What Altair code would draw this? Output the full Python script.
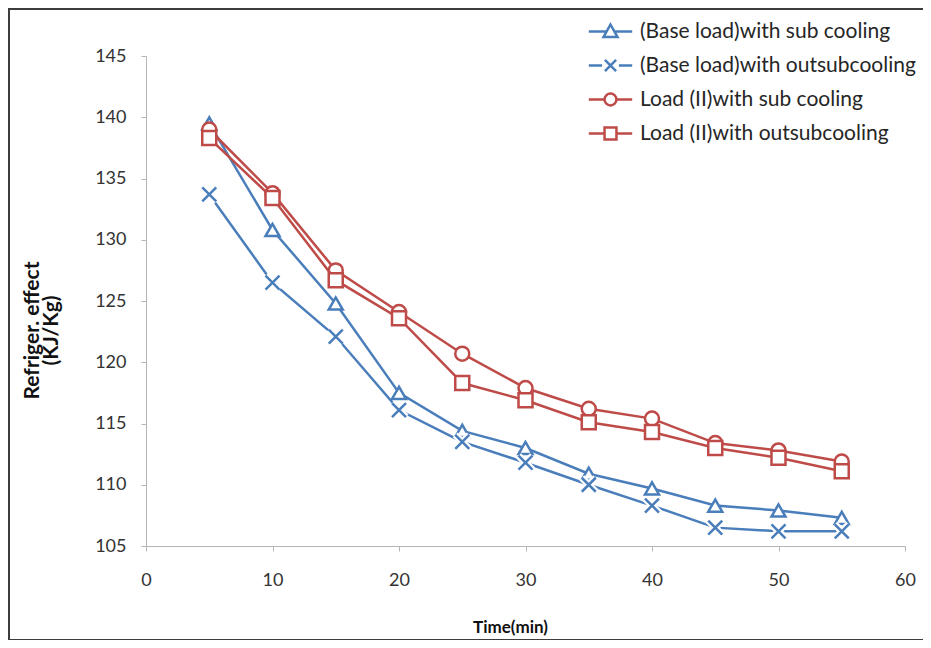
import altair as alt
import pandas as pd

# ---- data ----
times = [5, 10, 15, 20, 25, 30, 35, 40, 45, 50, 55]
series_names = [
    "(Base load)with sub cooling",
    "(Base load)with outsubcooling",
    "Load (II)with sub cooling",
    "Load (II)with outsubcooling",
]
base_sub = [139.5, 130.8, 124.8, 117.5, 114.4, 113.0, 110.9, 109.7, 108.3, 107.9, 107.3]
base_out = [133.7, 126.5, 122.1, 116.1, 113.5, 111.8, 110.0, 108.3, 106.5, 106.2, 106.2]
load_sub = [139.0, 133.8, 127.5, 124.1, 120.7, 117.9, 116.2, 115.4, 113.4, 112.8, 111.9]
load_out = [138.3, 133.4, 126.7, 123.6, 118.3, 116.9, 115.1, 114.3, 113.0, 112.2, 111.1]
x_ticks = [0, 10, 20, 30, 40, 50, 60]
y_ticks = [105, 110, 115, 120, 125, 130, 135, 140, 145]

colors = ["#4A7EBB", "#4A7EBB", "#BE4B48", "#BE4B48"]
marker_shapes = ["triangle-up", "M-1,-1L1,1M1,-1L-1,1", "circle", "square"]
halo = [False, True, False, False]
legend_shapes = [
    "M-3.1,0H-0.56M0.56,0H3.1M0,-1L1,0.8L-1,0.8Z",
    "M-3.1,0H-1.2M1.2,0H3.1M-0.8,-0.8L0.8,0.8M0.8,-0.8L-0.8,0.8",
    "M-3.1,0H-0.85A0.85,0.85 0 1,1 0.85,0A0.85,0.85 0 1,1 -0.85,0M0.85,0H3.1",
    "M-3.1,0H-0.85M0.85,0H3.1M-0.85,-0.85H0.85V0.85H-0.85Z",
]

rows = []
for name, vals in zip(series_names, [base_sub, base_out, load_sub, load_out]):
    for t, v in zip(times, vals):
        rows.append({"series": name, "time": t, "value": v})
df = pd.DataFrame(rows)

W, H = 759, 490
FONT = "Lato"

x_enc = alt.X(
    "time:Q",
    scale=alt.Scale(domain=[0, 60], nice=False),
    axis=alt.Axis(
        values=x_ticks, title="Time(min)", grid=False, domainColor="#b5b5b5",
        tickColor="#b5b5b5", tickSize=5, labelFontSize=18, labelFont=FONT,
        labelColor="#333333", labelPadding=20, labelFlush=False, titleFont=FONT,
        titleFontSize=17, titleFontWeight="bold", titleColor="#111111",
        titlePadding=30, titleX=364,
    ),
)
y_enc = alt.Y(
    "value:Q",
    scale=alt.Scale(domain=[105, 145], nice=False, zero=False),
    axis=alt.Axis(
        values=y_ticks, title=["Refriger. effect", "(KJ/Kg)"], grid=False,
        domainColor="#b5b5b5", tickColor="#b5b5b5", tickSize=5, labelFontSize=18,
        labelFont=FONT, labelColor="#333333", labelPadding=15, labelFlush=False,
        titleFont=FONT, titleFontSize=21, titleFontWeight="bold",
        titleColor="#111111", titlePadding=33, titleLineHeight=19, titleY=274,
    ),
)

layers = []
for name, col, shp, hl in zip(series_names, colors, marker_shapes, halo):
    base = alt.Chart(df).transform_filter(alt.datum.series == name)
    layers.append(base.mark_line(color=col, strokeWidth=2.5).encode(x=x_enc, y=y_enc))
    if hl:
        layers.append(
            base.mark_point(shape=shp, size=196, filled=False, color="white",
                            stroke="white", strokeWidth=7, opacity=1)
            .encode(x=x_enc, y=y_enc)
        )
    layers.append(
        base.mark_point(shape=shp, size=196, filled=False, fill="white",
                        color=col, stroke=col, strokeWidth=2.5, opacity=1)
        .encode(x=x_enc, y=y_enc)
    )

legend_layer = (
    alt.Chart(df)
    .transform_filter("false")
    .mark_point(filled=False, strokeWidth=2.5, size=196)
    .encode(
        x=x_enc,
        y=y_enc,
        color=alt.Color("series:N", scale=alt.Scale(domain=series_names, range=colors),
                        legend=alt.Legend(title=None)),
        shape=alt.Shape("series:N", scale=alt.Scale(domain=series_names, range=legend_shapes),
                        legend=alt.Legend(title=None)),
    )
)

frame = (
    alt.Chart(pd.DataFrame({"f": [0]}))
    .mark_rect(fillOpacity=0, stroke="#3c3c3c", strokeWidth=2)
    .encode(x=alt.value(-137), x2=alt.value(800), y=alt.value(-47), y2=alt.value(584))
)

chart = (
    alt.layer(frame, *layers, legend_layer)
    .properties(
        width=W, height=H,
        autosize=alt.AutoSizeParams(type="none"),
        padding={"left": 138, "top": 48, "right": 18, "bottom": 94},
        background="white",
    )
    .configure_view(stroke=None)
    .configure_legend(
        orient="none", legendX=454, legendY=-35, padding=0, symbolSize=196,
        symbolStrokeWidth=2.5, symbolOpacity=1, labelFont=FONT, labelFontSize=21,
        labelColor="#262626", labelOffset=19, rowPadding=11, symbolOffset=0,
        labelLimit=400,
    )
)

chart.save("out.html", embed_options={"renderer": "svg", "actions": False})
